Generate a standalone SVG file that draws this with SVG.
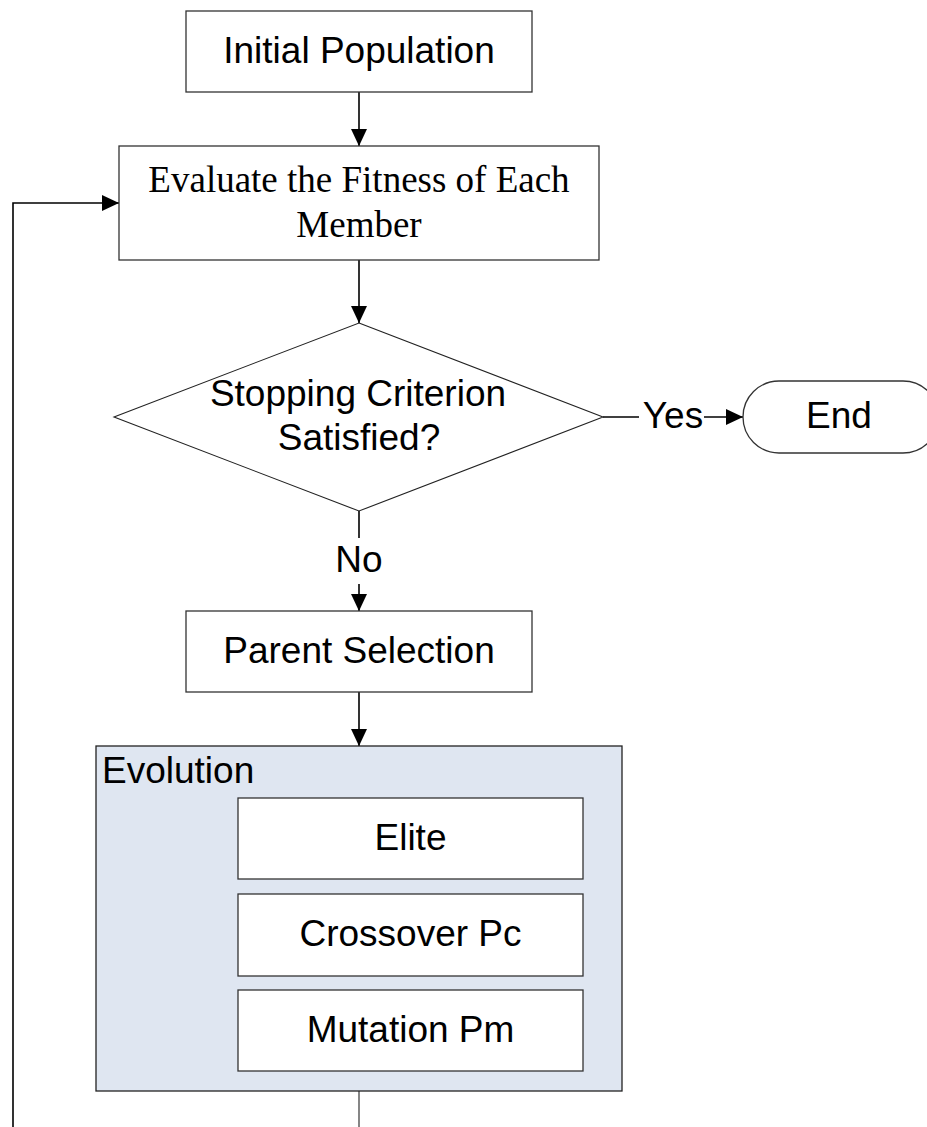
<svg xmlns="http://www.w3.org/2000/svg" width="927" height="1127" viewBox="0 0 927 1127">
<style>
.box{fill:#fff;stroke:#333;stroke-width:1.3}
.t{font-family:"Liberation Sans",Arial,sans-serif;font-size:37px;fill:#000}
.ts{font-family:"Liberation Serif","Times New Roman",serif;font-size:37px;fill:#000}
.c{fill:none;stroke:#000;stroke-width:1.6}
.cg{fill:none;stroke:#444;stroke-width:1.3}
</style>
<defs>
<marker id="arr" markerUnits="userSpaceOnUse" markerWidth="17" markerHeight="16" refX="17" refY="8" orient="auto" viewBox="0 0 17 16">
<path d="M0,0 L17,8 L0,16 z" fill="#000"/>
</marker>
</defs>
<g id="connectors">
<path class="c" d="M359,92 L359,146" marker-end="url(#arr)"/>
<path class="c" d="M359,260 L359,323" marker-end="url(#arr)"/>
<path class="c" d="M359,511 L359,538"/>
<path class="c" d="M359,584 L359,611" marker-end="url(#arr)"/>
<text class="t" x="359" y="572" text-anchor="middle">No</text>
<path class="c" d="M603,417 L639,417"/>
<path class="c" d="M704,417 L743,417" marker-end="url(#arr)"/>
<text class="t" x="673" y="428" text-anchor="middle">Yes</text>
<path class="c" d="M359,692 L359,746" marker-end="url(#arr)"/>
<path class="cg" d="M359,1091 L359,1127"/>
<path class="c" d="M13,1127 L13,203 L119,203" marker-end="url(#arr)"/>
</g>
<g id="initial">
<rect class="box" x="186" y="11" width="346" height="81"/>
<text class="t" x="359" y="63" text-anchor="middle">Initial Population</text>
</g>
<g id="evaluate">
<rect class="box" x="119" y="146" width="480" height="114"/>
<text class="ts" x="359" y="192" text-anchor="middle">Evaluate the Fitness of Each</text>
<text class="ts" x="359" y="237" text-anchor="middle">Member</text>
</g>
<g id="decision">
<path class="box" d="M359,323 L603,417 L359,511 L114,417 Z" style="stroke:#222;stroke-width:1.1"/>
<text class="t" x="358" y="406" text-anchor="middle">Stopping Criterion</text>
<text class="t" x="359" y="450" text-anchor="middle">Satisfied?</text>
</g>
<g id="end">
<rect class="box" x="743" y="381" width="196" height="72" rx="36" ry="36"/>
<text class="t" x="839" y="428" text-anchor="middle">End</text>
</g>
<g id="parent">
<rect class="box" x="186" y="611" width="346" height="81"/>
<text class="t" x="359" y="663" text-anchor="middle">Parent Selection</text>
</g>
<g id="evolution">
<rect x="96" y="746" width="526" height="345" fill="#dfe6f1" stroke="#222" stroke-width="1.3"/>
<text class="t" x="102" y="783">Evolution</text>
</g>
<g id="elite">
<rect class="box" x="238" y="798" width="345" height="81"/>
<text class="t" x="410.5" y="850" text-anchor="middle">Elite</text>
</g>
<g id="crossover">
<rect class="box" x="238" y="894" width="345" height="82"/>
<text class="t" x="410.5" y="946" text-anchor="middle">Crossover Pc</text>
</g>
<g id="mutation">
<rect class="box" x="238" y="990" width="345" height="81"/>
<text class="t" x="410.5" y="1042" text-anchor="middle">Mutation Pm</text>
</g>
</svg>
